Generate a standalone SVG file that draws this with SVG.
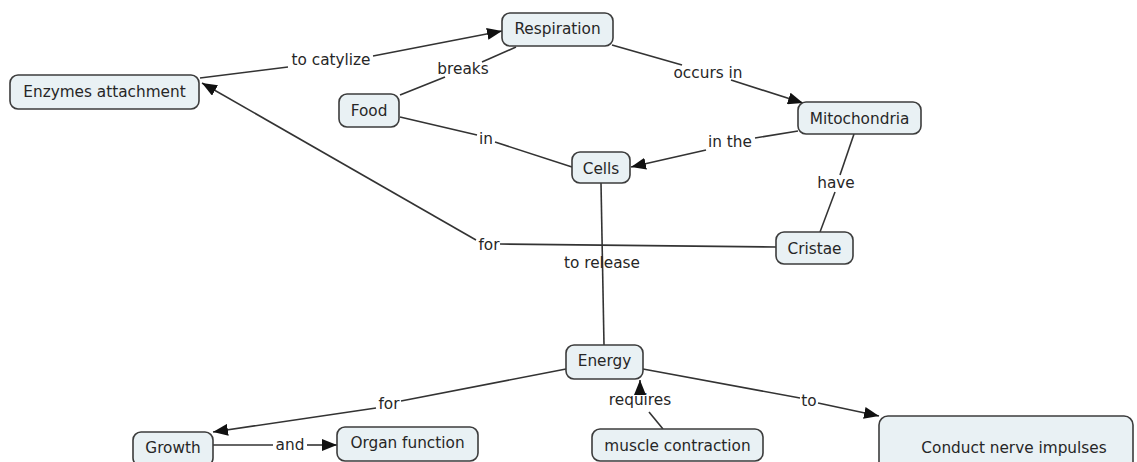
<svg xmlns="http://www.w3.org/2000/svg" width="1137" height="462" viewBox="0 0 1137 462">
<style>
.node rect{fill:#e9f1f4;stroke:#3c3c3c;stroke-width:1.6}
.node text,.lbl{font-family:"DejaVu Sans",Verdana,sans-serif;font-size:15.3px;fill:#262626;text-anchor:middle}
.edges line,.edges polyline{stroke:#333;stroke-width:1.6;fill:none}
.arr{marker-end:url(#ah)}
</style>
<defs>
<marker id="ah" markerUnits="userSpaceOnUse" markerWidth="16" markerHeight="12" refX="15" refY="6" orient="auto">
<path d="M0,0 L15,6 L0,12 Z" fill="#111"/>
</marker>
</defs>
<rect width="1137" height="462" fill="#fff"/>
<g class="edges">
<line x1="200" y1="78" x2="288" y2="67"/>
<line class="arr" x1="373" y1="56" x2="502" y2="31"/>
<line x1="400" y1="95" x2="445" y2="77"/>
<line x1="482" y1="62" x2="516" y2="47"/>
<line x1="612" y1="45" x2="682" y2="65"/>
<line class="arr" x1="731" y1="80" x2="803" y2="103"/>
<line x1="400" y1="117" x2="477" y2="135"/>
<line x1="495" y1="142" x2="572" y2="167"/>
<line x1="798" y1="131" x2="755" y2="138"/>
<line class="arr" x1="706" y1="150" x2="631" y2="167"/>
<line x1="854" y1="134" x2="840" y2="175"/>
<line x1="835" y1="192" x2="820" y2="232"/>
<line x1="776" y1="247" x2="500" y2="244"/>
<line class="arr" x1="476" y1="240" x2="202" y2="83"/>
<line x1="601" y1="183" x2="604" y2="345"/>
<line x1="566" y1="369" x2="401" y2="401"/>
<line class="arr" x1="376" y1="408" x2="213" y2="432"/>
<line x1="213" y1="445" x2="273" y2="445"/>
<line class="arr" x1="307" y1="445" x2="337" y2="445"/>
<line x1="663" y1="429" x2="649" y2="412"/>
<line class="arr" x1="640" y1="394" x2="640" y2="380"/>
<line x1="643" y1="369" x2="800" y2="398"/>
<line class="arr" x1="818" y1="403" x2="879" y2="416"/>
</g>
<g id="labels">
<text class="lbl" x="331" y="65">to catylize</text>
<text class="lbl" x="463" y="74">breaks</text>
<text class="lbl" x="708" y="78">occurs in</text>
<text class="lbl" x="486" y="144">in</text>
<text class="lbl" x="730" y="147">in the</text>
<text class="lbl" x="836" y="188">have</text>
<text class="lbl" x="489" y="250">for</text>
<text class="lbl" x="602" y="268">to release</text>
<text class="lbl" x="389" y="409">for</text>
<text class="lbl" x="290" y="450">and</text>
<text class="lbl" x="640" y="405">requires</text>
<text class="lbl" x="809" y="406">to</text>
</g>
<g id="respiration" class="node"><rect x="502" y="13" width="111" height="33" rx="8"/><text x="557.5" y="34">Respiration</text></g>
<g id="enzymes" class="node"><rect x="10" y="75" width="189" height="34" rx="8"/><text x="104.5" y="97">Enzymes attachment</text></g>
<g id="food" class="node"><rect x="339" y="94" width="60" height="33" rx="8"/><text x="369" y="116">Food</text></g>
<g id="cells" class="node"><rect x="572" y="152" width="58" height="31" rx="8"/><text x="601" y="174">Cells</text></g>
<g id="mitochondria" class="node"><rect x="798" y="102" width="123" height="32" rx="8"/><text x="859.5" y="124">Mitochondria</text></g>
<g id="cristae" class="node"><rect x="776" y="232" width="77" height="32" rx="8"/><text x="814.5" y="254">Cristae</text></g>
<g id="energy" class="node"><rect x="566" y="345" width="77" height="34" rx="8"/><text x="604.5" y="366">Energy</text></g>
<g id="growth" class="node"><rect x="133" y="432" width="80" height="34" rx="8"/><text x="173" y="453">Growth</text></g>
<g id="organ" class="node"><rect x="337" y="427" width="141" height="34" rx="8"/><text x="407.5" y="448">Organ function</text></g>
<g id="muscle" class="node"><rect x="592" y="429" width="171" height="32" rx="8"/><text x="677.5" y="451">muscle contraction</text></g>
<g id="conduct" class="node"><rect x="879" y="416" width="254" height="60" rx="9"/><text x="1014" y="453">Conduct nerve impulses</text></g>
</svg>
